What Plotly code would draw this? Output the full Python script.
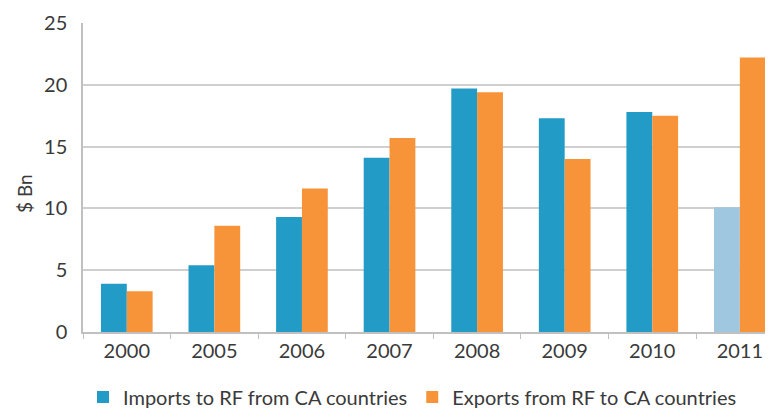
import plotly.graph_objects as go

years = ["2000", "2005", "2006", "2007", "2008", "2009", "2010", "2011"]
imports = [3.9, 5.4, 9.3, 14.1, 19.7, 17.3, 17.8, 10.1]
exports = [3.3, 8.6, 11.6, 15.7, 19.4, 14.0, 17.5, 22.2]
import_colors = ["#229bc7"] * 7 + ["#a0c7e0"]
export_color = "#f7943a"

font_family = "Lato, 'Open Sans', sans-serif"

fig = go.Figure()
fig.add_trace(go.Bar(x=years, y=imports, name="Imports to RF from CA countries",
                     marker=dict(color=import_colors, line=dict(width=0))))
fig.add_trace(go.Bar(x=years, y=exports, name="Exports from RF to CA countries",
                     marker=dict(color=export_color, line=dict(width=0))))

fig.add_annotation(text="$ Bn", xref="paper", yref="paper", x=-0.083, y=0.447,
                   xanchor="center", yanchor="middle", textangle=-90, showarrow=False,
                   font=dict(size=19, color="#3a3a3a"))

fig.update_layout(
    width=773, height=410,
    margin=dict(l=75, r=0, t=15, b=86, autoexpand=False),
    paper_bgcolor="white", plot_bgcolor="white",
    barmode="group", bargap=0.41, bargroupgap=0,
    font=dict(family=font_family, color="#3a3a3a", size=20),
    showlegend=True,
    legend=dict(orientation="h", x=0.0, xanchor="left", y=-0.21, yanchor="middle",
                font=dict(size=20, color="#3a3a3a"), itemwidth=30, tracegroupgap=0,
                bgcolor="rgba(0,0,0,0)"),
    xaxis=dict(range=[-0.5, 7.47], showline=True, linecolor="#c0c0c0", linewidth=1.5,
               ticks="outside", tickson="boundaries", ticklen=5, tickcolor="#c0c0c0",
               tickfont=dict(size=20), showgrid=False, fixedrange=True, automargin=False),
    yaxis=dict(range=[0, 25], dtick=5, showline=True, linecolor="#c0c0c0", linewidth=1.5,
               showgrid=True, gridcolor="#cfcfcf", gridwidth=1.5, zeroline=False,
               tickfont=dict(size=20), ticks="", ticklabelstandoff=10, automargin=False),
)

fig.write_html("out.html")
